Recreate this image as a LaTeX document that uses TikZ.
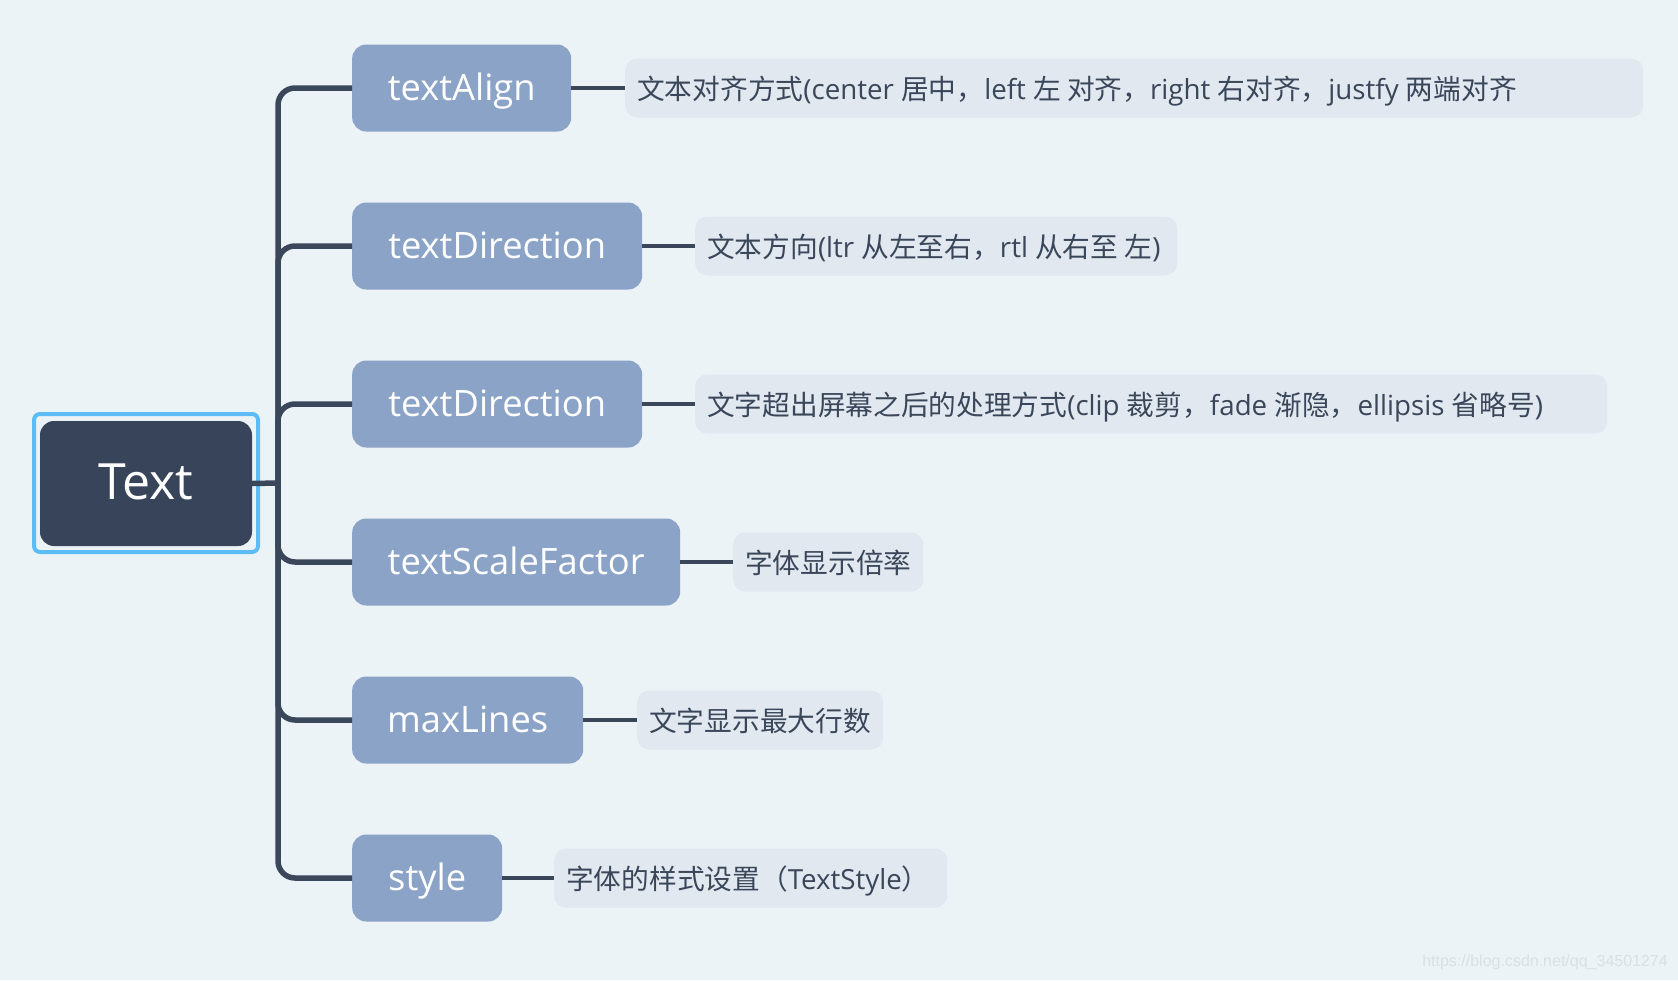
\documentclass[tikz,border=0pt]{standalone}
\usepackage{fontspec}
\setmainfont{Open Sans}
\newfontfamily\cjk{Noto Sans CJK SC}
\newfontfamily\wmfont{Liberation Sans}
\definecolor{bgc}{HTML}{ECF3F7}
\definecolor{rootc}{HTML}{374459}
\definecolor{selc}{HTML}{5CBDF6}
\definecolor{childc}{HTML}{8AA3C7}
\definecolor{descc}{HTML}{E1E8F0}
\definecolor{linec}{HTML}{3A4659}
\definecolor{wmc}{HTML}{D9E0E4}
\newcommand{\dtext}[2]{\makebox[#1][l]{#2}}
\tikzset{
  rootbox/.style={fill=rootc, rounded corners=14pt, inner sep=0pt, minimum width=212pt, minimum height=125pt,
    text=white, text height=37pt, text depth=6pt, font=\fontsize{50}{58}\selectfont},
  selbox/.style={draw=selc, line width=4pt, rounded corners=6pt, inner sep=0pt, minimum width=224pt, minimum height=138pt},
  childbox/.style={fill=childc, rounded corners=14pt, inner sep=0pt, minimum height=87pt, anchor=west,
    text=white, text height=30pt, text depth=6pt, font=\fontsize{36.3}{43}\selectfont},
  descbox/.style={fill=descc, rounded corners=12pt, inner xsep=12pt, inner ysep=0pt, minimum height=59pt, anchor=west,
    text=linec, text height=29pt, text depth=6pt, font=\fontsize{27.7}{33}\selectfont},
  trunkline/.style={draw=linec, line width=5.5pt, rounded corners=17pt},
  leafline/.style={draw=linec, line width=4pt},
}
\begin{document}
\begin{tikzpicture}[x=1pt, y=-1pt]
\fill[bgc] (0,0) rectangle (1678,980);
\useasboundingbox (0,0) rectangle (1678,980);

% root
\node[selbox] (rootsel) at (146,483) {};
\node[rootbox] (root) at (146,483.5) {Text};
\coordinate (J) at (278,483);

% children
\node[childbox, minimum width=219pt] (c1) at (352,88) {textAlign};
\node[childbox, minimum width=290pt] (c2) at (352,246) {textDirection};
\node[childbox, minimum width=290pt] (c3) at (352,404) {textDirection};
\node[childbox, minimum width=328pt] (c4) at (352,562) {textScaleFactor};
\node[childbox, minimum width=231pt] (c5) at (352,720) {maxLines};
\node[childbox, minimum width=150pt] (c6) at (352,878) {style};

% descriptions
\node[descbox] (d1) at (625,88) {\dtext{994pt}{{\cjk 文本对齐方式}(center {\cjk 居中，}left {\cjk 左 对齐，}right {\cjk 右对齐，}justfy {\cjk 两端对齐}}};
\node[descbox] (d2) at (695,246) {\dtext{458pt}{{\cjk 文本方向}(ltr {\cjk 从左至右，}rtl {\cjk 从右至 左})}};
\node[descbox] (d3) at (695,404) {\dtext{888pt}{{\cjk 文字超出屏幕之后的处理方式}(clip {\cjk 裁剪，}fade {\cjk 渐隐，}ellipsis {\cjk 省略号})}};
\node[descbox] (d4) at (733,562) {\dtext{166pt}{{\cjk 字体显示倍率}}};
\node[descbox] (d5) at (637,720) {\dtext{222pt}{{\cjk 文字显示最大行数}}};
\node[descbox] (d6) at (554,878) {\dtext{369pt}{{\cjk 字体的样式设置（}TextStyle{\cjk ）}}};

% connectors
\draw[trunkline] (root.east) -- (J);
\foreach \i in {1,...,6} {
  \draw[trunkline] (J) |- (c\i.west);
  \draw[leafline] (c\i.east) -- (d\i.west);
}

% watermark
\node[anchor=east, text=wmc, font=\wmfont\fontsize{16}{19}\selectfont, inner sep=0pt] (wm) at (1668,962) {https://blog.csdn.net/qq\_34501274};
\end{tikzpicture}
\end{document}
